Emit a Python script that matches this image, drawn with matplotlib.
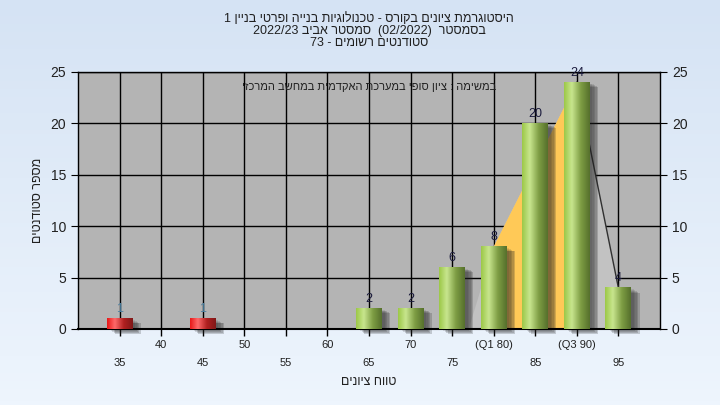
import re
import numpy as np
import matplotlib
matplotlib.use('Agg')
import matplotlib.pyplot as plt
from matplotlib.patches import Rectangle, Polygon
from matplotlib.transforms import ScaledTranslation

plt.rcParams['font.family'] = ['Liberation Sans', 'DejaVu Sans']

# נתונים
grades = [35, 40, 45, 50, 55, 60, 65, 70, 75, 80, 85, 90, 95]
counts = [1, 0, 1, 0, 0, 0, 2, 2, 6, 8, 20, 24, 4]
upper_ticks = [40, 50, 60, 70, 80, 90]
upper_labels = ['40', '50', '60', '70', '(Q1 80)', '(Q3 90)']
lower_ticks = [35, 45, 55, 65, 75, 85, 95]
lower_labels = ['35', '45', '55', '65', '75', '85', '95']
pass_grade = 55
q1, q3 = 80, 90
q1_count, q3_count = 8, 24
# עקומת התפלגות (אזור בהיר)
area_x = [77, 80, 90, 95, 95]
area_y = [0, 8, 24, 4, 0]

title_lines = ['היסטוגרמת ציונים בקורס - טכנולוגיות בנייה ופרטי בניין 1',
               'בסמסטר  (02/2022)  סמסטר אביב 2022/23',
               'סטודנטים רשומים - 73']
task_text = 'במשימה : ציון סופי במערכת האקדמית במחשב המרכזי'
xlabel = 'טווח ציונים'
ylabel = 'מספר סטודנטים'


def vis(s):
    # היפוך פשוט לכיוון ימין-לשמאל, מספרים נשארים משמאל לימין
    parts = re.split(r'([0-9A-Za-z]+(?:[/.][0-9A-Za-z]+)*)', s)
    out = []
    for i, p in enumerate(parts):
        if i % 2 == 1:
            out.append(p)
        else:
            r = p[::-1].translate(str.maketrans('()', ')('))
            out.append(r)
    return ''.join(out[::-1])


def gradient(stops, n=64):
    pos = [s[0] for s in stops]
    cols = np.array([matplotlib.colors.to_rgb(s[1]) for s in stops])
    t = np.linspace(0, 1, n)
    g = np.stack([np.interp(t, pos, cols[:, k]) for k in range(3)], axis=-1)
    return g[np.newaxis, :, :]


green = gradient([(0, '#9cc848'), (0.3, '#c8e68e'), (0.65, '#7e9e44'), (1, '#56702c')])
red = gradient([(0, '#e81818'), (0.3, '#ff6a6a'), (0.65, '#b02020'), (1, '#801818')])

fig = plt.figure(figsize=(7.2, 4.05), dpi=100)

# רקע מדורג
bg = fig.add_axes([0, 0, 1, 1], zorder=-10)
bg.axis('off')
bgrad = np.linspace(0, 1, 100)[:, None]
top_c = np.array(matplotlib.colors.to_rgb('#d5e3f4'))
bot_c = np.array(matplotlib.colors.to_rgb('#eef5fd'))
bg.imshow(top_c + (bot_c - top_c) * bgrad[:, :, None] * np.ones((1, 2, 1)),
          extent=[0, 1, 0, 1], aspect='auto')

ax = fig.add_axes([0.1083, 0.1877, 0.8083, 0.6346])
ax.set_facecolor('#b4b4b4')

ax.grid(True, color='black', linewidth=1, zorder=0)
ax.set_axisbelow(True)

ax.add_patch(Polygon(list(zip(area_x, area_y)), closed=True, facecolor='#c2c2c2',
                     edgecolor='none', zorder=1))
ax.add_patch(Polygon([(q1, 0), (q1, q1_count), (q3, q3_count), (q3, 0)], closed=True,
                     facecolor='#ffc957', edgecolor='none', zorder=1.5))
ax.plot(area_x[2:4], area_y[2:4], color='#303030', linewidth=1, zorder=1.6)

w = 3.1
for g, c in zip(grades, counts):
    if c <= 0:
        continue
    # צל
    for k, a in enumerate([0.10, 0.12, 0.15, 0.18, 0.2]):
        off = ScaledTranslation((2 + k) / 72, -(1 + k * 0.6) / 72, fig.dpi_scale_trans)
        ax.add_patch(Rectangle((g - w / 2, 0), w, c, facecolor='#202020', alpha=a,
                               edgecolor='none', transform=ax.transData + off,
                               zorder=2, clip_on=False))
    ax.imshow(red if g < pass_grade else green, extent=(g - w / 2, g + w / 2, 0, c),
              aspect='auto', interpolation='bicubic', zorder=3)
    ax.annotate(str(c), (g, c), xytext=(0, 2.5), textcoords='offset points',
                ha='center', va='bottom', fontsize=9,
                color='#4a7fa0' if g < pass_grade else '#1a1a3c', zorder=5)

ax.set_xlim(30, 100)
ax.set_ylim(0, 25)
ax.set_aspect('auto')

ax.set_xticks(lower_ticks)
ax.set_xticklabels(lower_labels, fontsize=8, color='#202020')
ax.set_xticks(upper_ticks, minor=True)
ax.set_xticklabels(upper_labels, minor=True, fontsize=8, color='#202020')
ax.tick_params(axis='x', which='major', length=5, pad=16, width=1)
ax.tick_params(axis='x', which='minor', length=5, pad=3, width=1)
ax.xaxis.grid(True, which='both', color='black', linewidth=1)
ax.set_yticks([0, 5, 10, 15, 20, 25])
ax.tick_params(axis='y', length=5, labelsize=10, labelcolor='#202020')
ax.tick_params(axis='y', which='both', right=True, labelright=True)
for sp in ax.spines.values():
    sp.set_color('black')
    sp.set_linewidth(1)
ax.spines['bottom'].set_linewidth(1.5)

ax.set_xlabel(vis(xlabel), fontsize=9, labelpad=6, color='#202020')
ax.set_ylabel(vis(ylabel), fontsize=9, labelpad=5, color='#202020')

ax.text(0.5, 0.96, vis(task_text), transform=ax.transAxes, ha='center', va='top',
        fontsize=8, color='#202020', zorder=6)

for i, line in enumerate(title_lines):
    fig.text(0.513, 1 - (19 + 12 * i) / 405, vis(line), ha='center', va='center',
             fontsize=9, color='#202020')

fig.savefig('out.png', dpi=100)
